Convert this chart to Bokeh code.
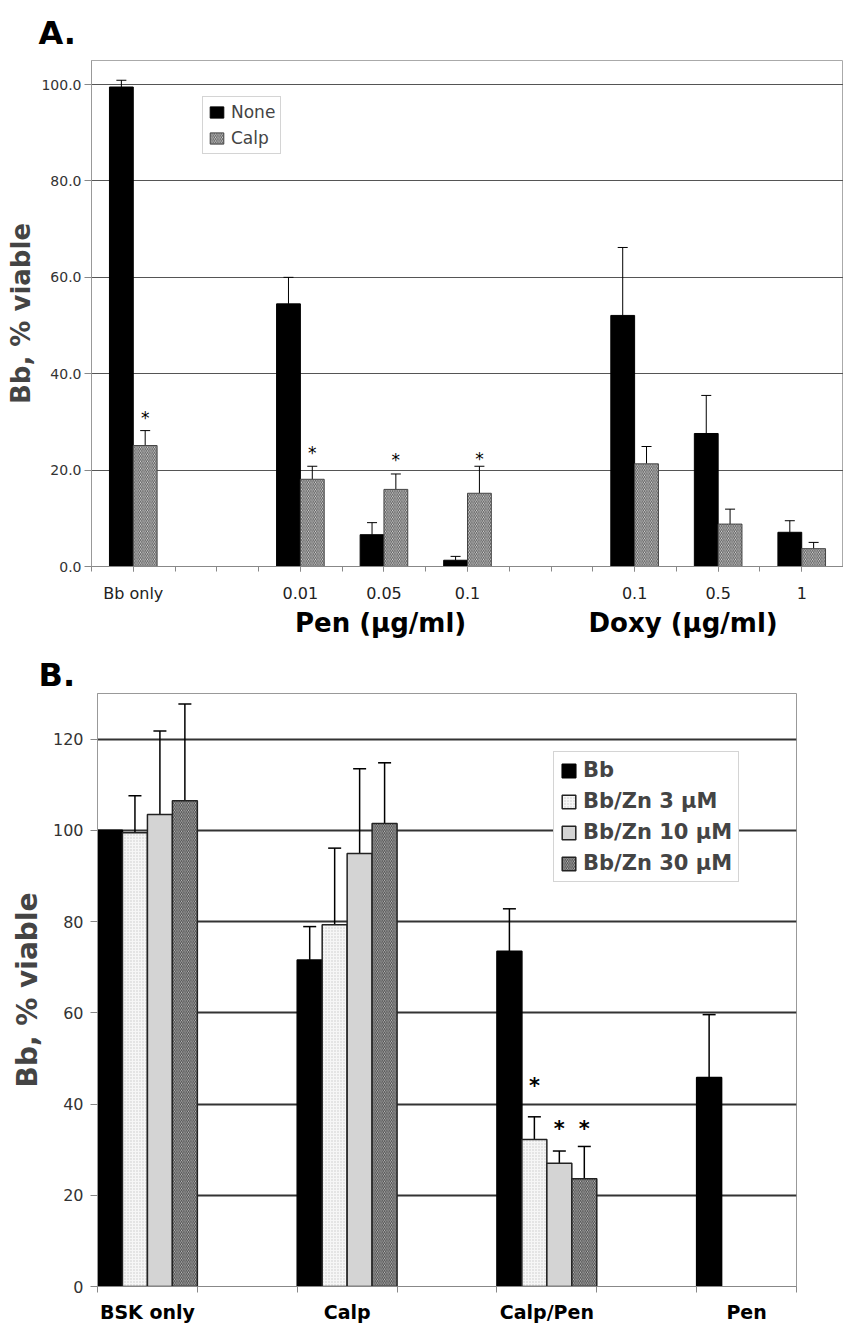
from bokeh.plotting import figure
from bokeh.models import (Range1d, FixedTicker, LinearAxis, Whisker, TeeHead, Title, Spacer,
                          ColumnDataSource, Legend, LegendItem, NumeralTickFormatter)
from bokeh.layouts import column, row
from bokeh.embed import file_html
from bokeh.resources import INLINE
from bokeh.core.properties import value

# ---------------- Panel A data ----------------
a_categories = ["Bb only", "", "0.01", "0.05", "0.1", "", "0.1", "0.5", "1"]
a_none = [99.5, None, 54.5, 6.6, 1.3, None, 52.1, 27.6, 7.1]
a_none_err = [1.4, None, 5.5, 2.5, 0.8, None, 14.1, 7.9, 2.4]
a_calp = [25.1, None, 18.1, 16.0, 15.2, None, 21.3, 8.8, 3.7]
a_calp_err = [3.1, None, 2.7, 3.2, 5.6, None, 3.6, 3.1, 1.3]
a_calp_star = [31.2, None, 23.9, 22.6, 22.7, None, None, None, None]
a_series = ["None", "Calp"]
a_groups = ["Pen (µg/ml)", "Doxy (µg/ml)"]
a_yticks = [0, 20, 40, 60, 80, 100]

# ---------------- Panel B data ----------------
b_categories = ["BSK only", "", "Calp", "", "Calp/Pen", "", "Pen"]
b_series = ["Bb", "Bb/Zn 3 µM", "Bb/Zn 10 µM", "Bb/Zn 30 µM"]
b_bb = [100.0, None, 71.6, None, 73.5, None, 45.8]
b_bb_err = [None, None, 7.3, None, 9.3, None, 13.8]
b_zn3 = [99.5, None, 79.3, None, 32.2, None, None]
b_zn3_err = [8.1, None, 16.8, None, 5.0, None, None]
b_zn10 = [103.5, None, 94.9, None, 27.0, None, None]
b_zn10_err = [18.3, None, 18.6, None, 2.7, None, None]
b_zn30 = [106.5, None, 101.5, None, 23.6, None, None]
b_zn30_err = [21.2, None, 13.3, None, 7.1, None, None]
b_star_zn3 = [None, None, None, None, 45.1, None, None]
b_star_zn10 = [None, None, None, None, 35.6, None, None]
b_star_zn30 = [None, None, None, None, 35.6, None, None]
b_yticks = [0, 20, 40, 60, 80, 100, 120]

FONT = "DejaVu Sans"


def bar_source(vals, errs, offset):
    x, top = [], []
    for i, v in enumerate(vals):
        if v is None:
            continue
        x.append(2 * i + 1 + offset)
        top.append(v)
    bars = ColumnDataSource(dict(x=x, top=top))
    wx, wl, wu = [], [], []
    for i, (v, e) in enumerate(zip(vals, errs)):
        if v is None or e is None:
            continue
        wx.append(2 * i + 1 + offset)
        wl.append(v)
        wu.append(v + e)
    whisk = ColumnDataSource(dict(x=wx, lower=wl, upper=wu))
    return bars, whisk


def star_source(stars, offset):
    x, y = [], []
    for i, s in enumerate(stars):
        if s is None:
            continue
        x.append(2 * i + 1 + offset)
        y.append(s)
    return ColumnDataSource(dict(x=x, y=y, t=["*"] * len(x)))


# ======================= Figure A =======================
nA = len(a_categories)
pA = figure(width=843, height=650, output_backend="svg", toolbar_location=None,
            x_range=Range1d(0, 2 * nA), y_range=Range1d(0, 105),
            min_border_left=91, min_border_top=60, min_border_bottom=84, min_border_right=0)
pA.outline_line_color = "#aaaaaa"
pA.xgrid.visible = False
pA.ygrid.grid_line_color = "#555555"
pA.ygrid.grid_line_width = 1
pA.extra_x_ranges = {"grp": Range1d(0, 100 * nA)}

bw_a = 0.57
off_a = [-0.285, 0.285]
src_n, wh_n = bar_source(a_none, a_none_err, off_a[0])
src_c, wh_c = bar_source(a_calp, a_calp_err, off_a[1])
r_none = pA.vbar(x="x", top="top", width=bw_a, bottom=0, source=src_n,
                 fill_color="black", line_color="black")
r_calp = pA.vbar(x="x", top="top", width=bw_a, bottom=0, source=src_c,
                 fill_color="#e4e4e4", line_color="#444444", line_width=1,
                 hatch_pattern="left_diagonal_line", hatch_color="#555555",
                 hatch_scale=3.5, hatch_weight=1)
for wh in (wh_n, wh_c):
    pA.add_layout(Whisker(source=wh, base="x", lower="lower", upper="upper",
                          line_color="black", line_width=1,
                          upper_head=TeeHead(size=10, line_color="black", line_width=1),
                          lower_head=None))
sA = star_source(a_calp_star, off_a[1])
pA.text(x="x", y="y", text="t", source=sA, text_align="center", text_baseline="middle",
        text_font=value(FONT), text_font_size="17px", y_offset=2, text_color="black")

leg_a = Legend(items=[LegendItem(label=a_series[0], renderers=[r_none]),
                      LegendItem(label=a_series[1], renderers=[r_calp])],
               location=(111, 412), label_text_font=FONT, label_text_font_size="17px",
               glyph_width=17, glyph_height=14, label_height=20, spacing=6, padding=5,
               margin=0, label_standoff=6, border_line_color="#aaaaaa",
               background_fill_alpha=1)
pA.add_layout(leg_a)

xa = pA.xaxis[0]
xa.ticker = FixedTicker(ticks=[2 * i + 1 for i, c in enumerate(a_categories) if c],
                        minor_ticks=list(range(0, 2 * nA + 1)))
xa.major_label_overrides = {2 * i + 1: c for i, c in enumerate(a_categories) if c}
xa.major_label_text_font = FONT
xa.major_label_text_font_size = "16px"
xa.major_label_text_color = "#222222"
xa.major_label_standoff = 12
xa.major_tick_in = 0
xa.major_tick_out = 5
xa.minor_tick_in = 0
xa.minor_tick_out = 5
xa.axis_line_color = "#888888"
xa.major_tick_line_color = "#888888"
xa.minor_tick_line_color = "#888888"

ga = LinearAxis(x_range_name="grp", ticker=FixedTicker(ticks=[346, 708]),
                major_label_overrides={346: a_groups[0], 708: a_groups[1]},
                axis_line_color=None, major_tick_line_color=None, minor_tick_line_color=None,
                major_label_text_font=FONT, major_label_text_font_style="bold",
                major_label_text_font_size="26px", major_label_standoff=-4,
                major_label_text_color="black")
pA.add_layout(ga, "below")

ya = pA.yaxis[0]
ya.ticker = FixedTicker(ticks=a_yticks)
ya.formatter = NumeralTickFormatter(format="0.0")
ya.major_label_text_font = FONT
ya.major_label_text_font_size = "14px"
ya.major_label_text_color = "#333333"
ya.major_label_standoff = 3
ya.major_tick_in = 0
ya.major_tick_out = 7
ya.minor_tick_line_color = None
ya.axis_line_color = "#999999"
ya.major_tick_line_color = "#888888"
ya.axis_label = "Bb, % viable"
ya.axis_label_text_font = FONT
ya.axis_label_text_font_style = "bold"
ya.axis_label_text_font_size = "26px"
ya.axis_label_text_line_height = 1.0
ya.axis_label_standoff = 2

pA.title = Title(text="A.", align="left", offset=-53, standoff=17, text_color="black",
                 text_font=FONT, text_font_style="bold", text_font_size="32px")

# ======================= Figure B =======================
nB = len(b_categories)
pB = figure(width=794, height=675, output_backend="svg", toolbar_location=None,
            x_range=Range1d(0, 2 * nB), y_range=Range1d(0, 130),
            min_border_left=91, min_border_top=43, min_border_bottom=36, min_border_right=4)
pB.outline_line_color = "#999999"
pB.xgrid.visible = False
pB.ygrid.grid_line_color = "#333333"
pB.ygrid.grid_line_width = 2

bw_b = 0.5
off_b = [-0.75, -0.25, 0.25, 0.75]
styles_b = [
    dict(fill_color="black", line_color="black"),
    dict(fill_color="#f6f6f6", line_color="#222222", hatch_pattern="dot",
         hatch_color="#c8c8c8", hatch_scale=3, hatch_weight=1),
    dict(fill_color="#d4d4d4", line_color="#222222"),
    dict(fill_color="#c8c8c8", line_color="#222222", hatch_pattern="left_diagonal_line",
         hatch_color="#444444", hatch_scale=3.5, hatch_weight=1),
]
vals_b = [b_bb, b_zn3, b_zn10, b_zn30]
errs_b = [b_bb_err, b_zn3_err, b_zn10_err, b_zn30_err]
rends_b = []
for k in range(4):
    sb, wb = bar_source(vals_b[k], errs_b[k], off_b[k])
    r = pB.vbar(x="x", top="top", width=bw_b, bottom=0, source=sb, line_width=1.5,
                **styles_b[k])
    rends_b.append(r)
    pB.add_layout(Whisker(source=wb, base="x", lower="lower", upper="upper",
                          line_color="black", line_width=1.5,
                          upper_head=TeeHead(size=13, line_color="black", line_width=1.5),
                          lower_head=None))
stars_b = [b_star_zn3, b_star_zn10, b_star_zn30]
for k in range(3):
    ss = star_source(stars_b[k], off_b[k + 1])
    pB.text(x="x", y="y", text="t", source=ss, text_align="center", text_baseline="middle",
            text_font=value(FONT), text_font_style="bold", text_font_size="21px",
            y_offset=5, text_color="black")

leg_b = Legend(items=[LegendItem(label=b_series[k], renderers=[rends_b[k]]) for k in range(4)],
               location=(456, 404), label_text_font=FONT, label_text_font_style="bold",
               label_text_font_size="21px", glyph_width=17, glyph_height=17,
               label_height=24, spacing=7, padding=6, margin=0, label_standoff=6,
               border_line_color="#aaaaaa", background_fill_alpha=1)
pB.add_layout(leg_b)

xb = pB.xaxis[0]
xb.ticker = FixedTicker(ticks=[2 * i + 1 for i, c in enumerate(b_categories) if c],
                        minor_ticks=list(range(0, 2 * nB + 1, 2)))
xb.major_label_overrides = {2 * i + 1: c for i, c in enumerate(b_categories) if c}
xb.major_label_text_font = FONT
xb.major_label_text_font_style = "bold"
xb.major_label_text_font_size = "19px"
xb.major_label_text_color = "black"
xb.major_label_standoff = 8
xb.major_tick_line_color = None
xb.major_tick_in = 0
xb.major_tick_out = 0
xb.minor_tick_in = 0
xb.minor_tick_out = 6
xb.minor_tick_line_color = "#888888"
xb.axis_line_color = "#888888"

yb = pB.yaxis[0]
yb.ticker = FixedTicker(ticks=b_yticks)
yb.major_label_text_font = FONT
yb.major_label_text_font_size = "16px"
yb.major_label_text_color = "#333333"
yb.major_label_standoff = 7
yb.major_tick_in = 0
yb.major_tick_out = 7
yb.minor_tick_line_color = None
yb.axis_line_color = "#999999"
yb.major_tick_line_color = "#888888"
yb.axis_label = "Bb, % viable"
yb.axis_label_text_font = FONT
yb.axis_label_text_font_style = "bold"
yb.axis_label_text_font_size = "28px"
yb.axis_label_text_line_height = 1.0
yb.axis_label_standoff = 6

pB.title = Title(text="B.", align="left", offset=-59, standoff=0, text_color="black",
                 text_font=FONT, text_font_style="bold", text_font_size="32px")

layout = column(pA, row(Spacer(width=6, height=675), pB, spacing=0), spacing=0)
open("out.html", "w").write(file_html(layout, INLINE))
